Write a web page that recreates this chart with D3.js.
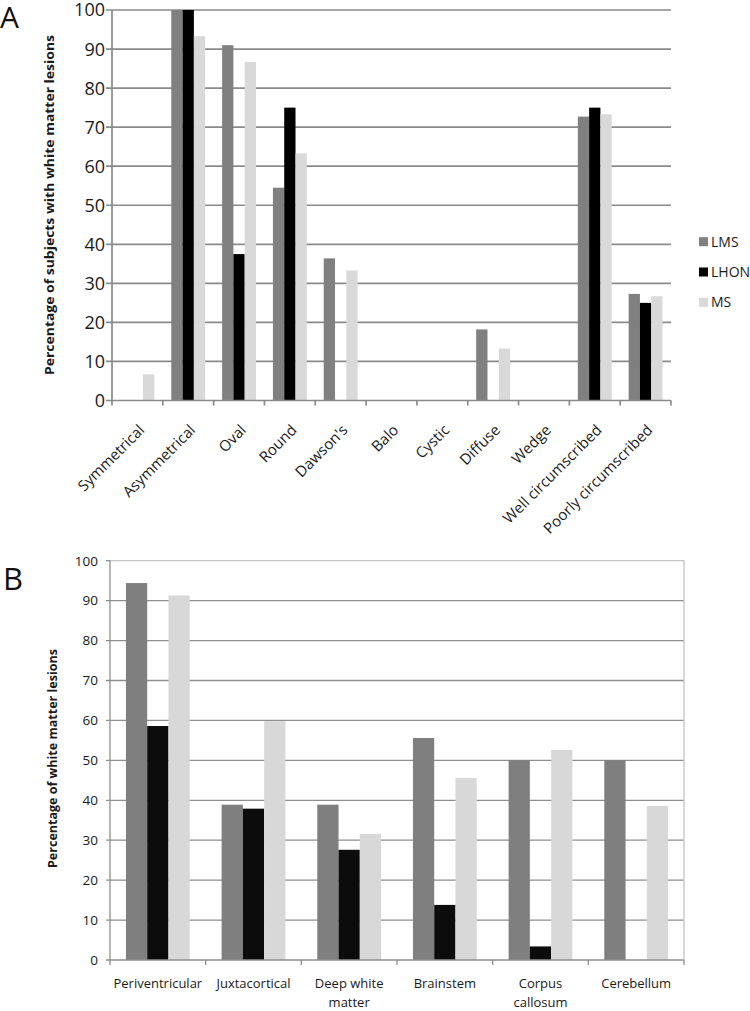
<!DOCTYPE html>
<html>
<head>
<meta charset="utf-8">
<script src="https://cdn.jsdelivr.net/npm/d3@7"></script>
<style>
  html, body { margin: 0; padding: 0; background: #fff; }
  svg { display: block; font-family: "Open Sans", sans-serif; }
</style>
</head>
<body>
<svg id="chart" width="750" height="1011"></svg>
<script>
// ---------- Data ----------
const seriesNames = ["LMS", "LHON", "MS"];

const categoriesA = ["Symmetrical", "Asymmetrical", "Oval", "Round", "Dawson's", "Balo",
  "Cystic", "Diffuse", "Wedge", "Well circumscribed", "Poorly circumscribed"];
const lmsA  = [0, 100, 91.0, 54.5, 36.4, 0, 0, 18.2, 0, 72.7, 27.3];
const lhonA = [0, 100, 37.5, 75.0, 0, 0, 0, 0, 0, 75.0, 25.0];
const msA   = [6.7, 93.3, 86.7, 63.3, 33.3, 0, 0, 13.3, 0, 73.3, 26.7];

const categoriesB = ["Periventricular", "Juxtacortical", "Deep white matter", "Brainstem",
  "Corpus callosum", "Cerebellum"];
const categoriesBLines = [["Periventricular"], ["Juxtacortical"], ["Deep white", "matter"],
  ["Brainstem"], ["Corpus", "callosum"], ["Cerebellum"]];
const lmsB  = [94.4, 38.9, 38.9, 55.6, 50.0, 50.0];
const lhonB = [58.6, 37.9, 27.6, 13.8, 3.4, 0];
const msB   = [91.3, 59.8, 31.6, 45.6, 52.6, 38.6];

const yTicks = [0, 10, 20, 30, 40, 50, 60, 70, 80, 90, 100];

const svg = d3.select("#chart");
const textColor = "#1a1a1a";

function drawPanel(opt) {
  const g = svg.append("g");
  const y = d3.scaleLinear().domain([0, 100]).range([opt.yBottom, opt.yTop]);
  const x = d3.scaleBand().domain(opt.categories).range([opt.x0, opt.x1])
    .paddingInner(1 / 3).paddingOuter(1 / 6);
  const xs = d3.scaleBand().domain(seriesNames).range([0, x.bandwidth()]);
  const step = x.step();

  // gridlines
  g.append("g").selectAll("line")
    .data(yTicks.filter(t => t > 0 && (opt.topGrid || t < 100)))
    .join("line")
    .attr("x1", opt.x0 - opt.tick).attr("x2", opt.x1)
    .attr("y1", d => y(d)).attr("y2", d => y(d))
    .attr("stroke", opt.gridColor).attr("stroke-width", opt.gridWidth);

  if (opt.border) {
    g.append("path")
      .attr("d", `M${opt.x0},${y(100)}H${opt.x1}V${y(0)}`)
      .attr("fill", "none").attr("stroke", "#c4c4c4").attr("stroke-width", 1.3);
    g.append("line").attr("x1", opt.x0 - opt.tick).attr("x2", opt.x0)
      .attr("y1", y(100)).attr("y2", y(100))
      .attr("stroke", opt.gridColor).attr("stroke-width", opt.gridWidth);
  }

  // bars
  const data = [];
  opt.categories.forEach((c, i) => {
    seriesNames.forEach((s, j) => data.push({ c, s, v: opt.values[j][i] }));
  });
  g.append("g").selectAll("rect")
    .data(data.filter(d => d.v > 0))
    .join("rect")
    .attr("x", d => x(d.c) + xs(d.s))
    .attr("width", xs.bandwidth())
    .attr("y", d => y(d.v))
    .attr("height", d => y(0) - y(d.v))
    .attr("fill", d => opt.colors[seriesNames.indexOf(d.s)]);

  // axes lines
  g.append("line").attr("x1", opt.x0).attr("x2", opt.x0)
    .attr("y1", y(100)).attr("y2", y(0))
    .attr("stroke", opt.gridColor).attr("stroke-width", opt.gridWidth);
  g.append("line").attr("x1", opt.x0 - opt.tick).attr("x2", opt.x1)
    .attr("y1", y(0)).attr("y2", y(0))
    .attr("stroke", opt.gridColor).attr("stroke-width", opt.gridWidth);

  // x ticks at category boundaries
  const bounds = opt.categories.map(c => x(c) - step / 6).concat([opt.x1]);
  g.append("g").selectAll("line").data(bounds).join("line")
    .attr("x1", d => d).attr("x2", d => d)
    .attr("y1", y(0)).attr("y2", y(0) + 5)
    .attr("stroke", opt.gridColor).attr("stroke-width", opt.gridWidth);

  // y tick labels
  g.append("g").selectAll("text").data(yTicks).join("text")
    .attr("x", opt.x0 - opt.labelGap)
    .attr("y", d => y(d))
    .attr("dy", "0.36em")
    .attr("text-anchor", "end")
    .attr("font-size", opt.tickFont)
    .attr("fill", textColor)
    .text(d => d);

  return { g, x, y };
}

// ---------- Panel A ----------
const A = drawPanel({
  categories: categoriesA,
  values: [lmsA, lhonA, msA],
  colors: ["#808080", "#000000", "#d9d9d9"],
  x0: 112, x1: 671, yTop: 10, yBottom: 400.5,
  tick: 6, labelGap: 7, tickFont: 18,
  gridColor: "#8a8a8a", gridWidth: 1.7, topGrid: true, border: false
});

A.g.append("g").selectAll("text").data(categoriesA).join("text")
  .attr("transform", d => `translate(${A.x(d) + A.x.bandwidth() / 2 + 8},${431}) rotate(-45)`)
  .attr("text-anchor", "end")
  .attr("font-size", 15)
  .attr("fill", textColor)
  .text(d => d);

A.g.append("text")
  .attr("transform", "translate(54,205) rotate(-90)")
  .attr("text-anchor", "middle")
  .attr("font-size", 12.5).attr("font-weight", "bold")
  .attr("fill", textColor)
  .attr("textLength", 340).attr("lengthAdjust", "spacingAndGlyphs")
  .text("Percentage of subjects with white matter lesions");

// legend
const legendColors = ["#808080", "#000000", "#d9d9d9"];
const leg = svg.append("g").selectAll("g").data(seriesNames).join("g")
  .attr("transform", (d, i) => `translate(699,${241.7 + i * 30.3})`);
leg.append("rect").attr("x", 0).attr("y", -4.5).attr("width", 9).attr("height", 9)
  .attr("fill", (d, i) => legendColors[i]);
leg.append("text").attr("x", 12).attr("y", 0).attr("dy", "0.36em")
  .attr("font-size", 14).attr("fill", textColor).text(d => d);

svg.append("text").attr("x", 0).attr("y", 28).attr("font-size", 30)
  .attr("fill", "#111").text("A");

// ---------- Panel B ----------
const B = drawPanel({
  categories: categoriesB,
  values: [lmsB, lhonB, msB],
  colors: ["#7f7f7f", "#0c0c0c", "#d8d8d8"],
  x0: 110, x1: 684, yTop: 560.7, yBottom: 960,
  tick: 4, labelGap: 12, tickFont: 13.5,
  gridColor: "#8e8e8e", gridWidth: 1.3, topGrid: false, border: true
});

const bl = B.g.append("g").selectAll("text").data(categoriesB).join("text")
  .attr("x", d => B.x(d) + B.x.bandwidth() / 2)
  .attr("y", 988)
  .attr("text-anchor", "middle")
  .attr("font-size", 13)
  .attr("fill", textColor);
bl.each(function (d, i) {
  const lines = categoriesBLines[i];
  const t = d3.select(this);
  lines.forEach((ln, k) => {
    t.append("tspan").attr("x", B.x(d) + B.x.bandwidth() / 2)
      .attr("y", 988 + k * 18.5).text(ln);
  });
});

B.g.append("text")
  .attr("transform", "translate(57,758.5) rotate(-90)")
  .attr("text-anchor", "middle")
  .attr("font-size", 11.5).attr("font-weight", "bold")
  .attr("fill", textColor)
  .attr("textLength", 219).attr("lengthAdjust", "spacingAndGlyphs")
  .text("Percentage of white matter lesions");

svg.append("text").attr("x", 3).attr("y", 590).attr("font-size", 31)
  .attr("fill", "#111").text("B");
</script>
</body>
</html>
